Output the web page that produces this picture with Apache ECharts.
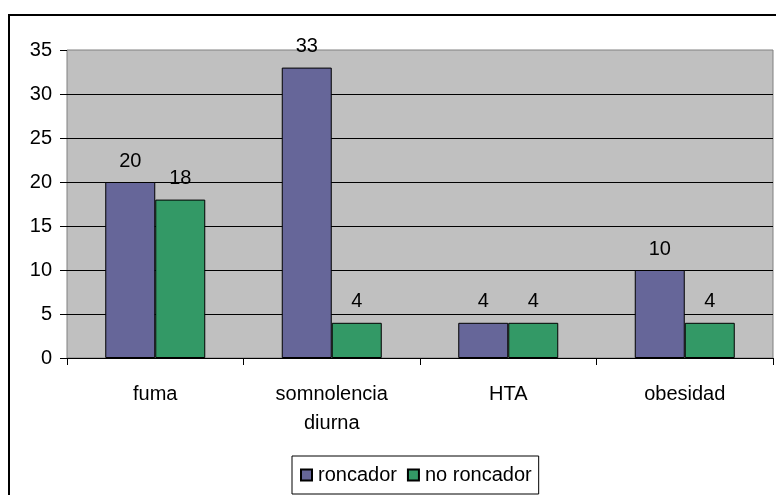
<!DOCTYPE html>
<html>
<head>
<meta charset="utf-8">
<script src="https://cdn.jsdelivr.net/npm/echarts@6/dist/echarts.min.js"></script>
<style>
html,body{margin:0;padding:0;background:#fff;}
#c{width:776px;height:495px;}
</style>
</head>
<body>
<div id="c"></div>
<script>
var categories = ['fuma', 'somnolencia\ndiurna', 'HTA', 'obesidad'];
var seriesNames = ['roncador', 'no roncador'];
var roncador = [20, 33, 4, 10];
var noRoncador = [18, 4, 4, 4];
var yTicks = [0, 5, 10, 15, 20, 25, 30, 35];

var chart = echarts.init(document.getElementById('c'), null, {renderer: 'canvas'});
var font = 'Liberation Sans, Arial, sans-serif';
var fs = 20;
function barSeries(name, data, color) {
  return {
    name: name,
    type: 'bar',
    data: data,
    barWidth: 50,
    barGap: '0%',
    itemStyle: {color: color, borderColor: '#000', borderWidth: 1},
    label: {show: true, position: 'top', distance: 11, color: '#000', fontSize: fs, fontFamily: font},
    emphasis: {disabled: true}
  };
}
chart.setOption({
  animation: false,
  textStyle: {fontFamily: font},
  graphic: [{
    type: 'rect',
    shape: {x: 9, y: 15, width: 800, height: 520},
    style: {fill: 'none', stroke: '#000', lineWidth: 2},
    z: 100
  }],
  grid: {
    left: 67, top: 50, right: 3, bottom: 137,
    show: true, backgroundColor: '#c0c0c0', borderColor: '#808080', borderWidth: 1
  },
  legend: {
    data: seriesNames,
    left: 292, top: 456,
    padding: [9, 7, 9, 8],
    itemWidth: 11, itemHeight: 11, itemGap: 10,
    icon: 'rect',
    borderColor: '#000', borderWidth: 1,
    textStyle: {fontSize: fs, color: '#000', fontFamily: font, padding: [0, 0, 0, 1]}
  },
  xAxis: {
    type: 'category',
    data: categories,
    axisLine: {show: true, lineStyle: {color: '#000', width: 1}},
    axisTick: {show: true, length: 7, lineStyle: {color: '#000'}},
    axisLabel: {color: '#000', fontSize: fs, margin: 22, lineHeight: 29, fontFamily: font, interval: 0}
  },
  yAxis: {
    type: 'value',
    min: yTicks[0], max: yTicks[yTicks.length - 1], interval: 5,
    axisLine: {show: false},
    axisTick: {show: true, length: 7, lineStyle: {color: '#000'}},
    axisLabel: {color: '#000', fontSize: fs, margin: 15, fontFamily: font},
    splitLine: {show: true, showMaxLine: false, lineStyle: {color: '#000', width: 1}}
  },
  series: [
    barSeries(seriesNames[0], roncador, '#666699'),
    barSeries(seriesNames[1], noRoncador, '#339966')
  ]
});
</script>
</body>
</html>
